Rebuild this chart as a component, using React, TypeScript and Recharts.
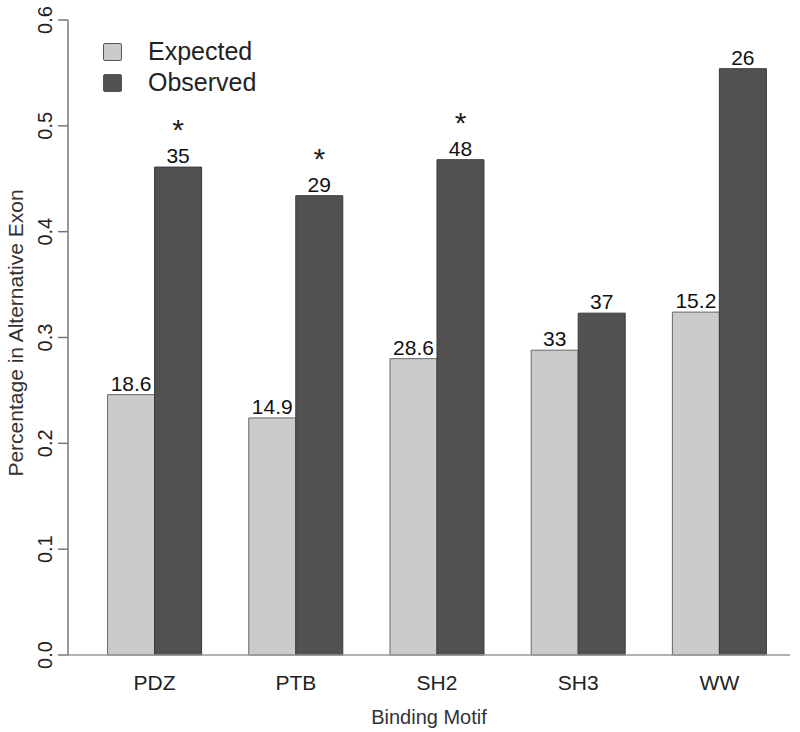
import { BarChart, Bar, XAxis, YAxis, LabelList } from 'recharts';

const categories = ['PDZ', 'PTB', 'SH2', 'SH3', 'WW'];
const expected = [0.246, 0.224, 0.28, 0.288, 0.324];
const observed = [0.461, 0.434, 0.468, 0.323, 0.554];
const expectedLabels = ['18.6', '14.9', '28.6', '33', '15.2'];
const observedLabels = ['35', '29', '48', '37', '26'];
const significant = [true, true, true, false, false];
const yTicks = [0, 0.1, 0.2, 0.3, 0.4, 0.5, 0.6];
const seriesNames = ['Expected', 'Observed'];

const data = categories.map((motif, i) => ({
  motif,
  expected: expected[i],
  observed: observed[i],
}));

const FONT = '"Liberation Sans", Arial, Helvetica, sans-serif';
const EXP_COLOR = '#cbcbcb';
const OBS_COLOR = '#515151';
const colors = [EXP_COLOR, OBS_COLOR];

const YTick = ({ x, y, payload }: any) => (
  <text
    x={x - 4}
    y={y}
    transform={`rotate(-90, ${x - 4}, ${y})`}
    textAnchor="middle"
    fontSize={20}
    fontFamily={FONT}
    fill="#222"
  >
    {payload.value.toFixed(1)}
  </text>
);

const XTick = ({ x, y, payload }: any) => (
  <text x={x} y={y + 27} textAnchor="middle" fontSize={21} fontFamily={FONT} fill="#222">
    {payload.value}
  </text>
);

// numbers above the bars, asterisk for the significant ones
const makeLabel = (labels: string[], stars: boolean) => (props: any) => {
  const { x, y, width, index } = props;
  const cx = x + width / 2;
  return (
    <g>
      <text x={cx} y={y - 4} textAnchor="middle" fontSize={21} fontFamily={FONT} fill="#111">
        {labels[index]}
      </text>
      {stars && significant[index] && (
        <text x={cx} y={y - 27} textAnchor="middle" fontSize={30} fontFamily={FONT} fill="#222">
          *
        </text>
      )}
    </g>
  );
};

const LegendBox = () => (
  <div
    style={{
      position: 'absolute',
      left: 103,
      top: 36,
      fontFamily: FONT,
      fontSize: 25,
      color: '#222',
      lineHeight: '31px',
    }}
  >
    {seriesNames.map((name, i) => (
      <div key={name} style={{ display: 'flex', alignItems: 'center' }}>
        <span
          style={{
            display: 'inline-block',
            width: 17,
            height: 16,
            background: colors[i],
            border: '1px solid #555',
            borderRadius: 2,
            marginRight: 26,
          }}
        />
        {name}
      </div>
    ))}
  </div>
);

export default function App() {
  return (
    <div style={{ position: 'absolute', left: 0, top: 0, width: 800, height: 732, background: '#fff' }}>
      <BarChart
        width={800}
        height={732}
        data={data}
        margin={{ top: 20, right: 10, bottom: 17, left: 8 }}
        barCategoryGap="16.7%"
        barGap={0}
      >
        <XAxis
          dataKey="motif"
          height={60}
          padding={{ left: 16, right: 0 }}
          axisLine={{ stroke: '#999', strokeWidth: 1.5 }}
          tickLine={false}
          tick={<XTick />}
          label={() => (
            <text x={429} y={724} textAnchor="middle" fontSize={20} fontFamily={FONT} fill="#333">
              Binding Motif
            </text>
          )}
        />
        <YAxis
          width={60}
          domain={[0, 0.6]}
          ticks={yTicks}
          interval={0}
          axisLine={{ stroke: '#777', strokeWidth: 1.5 }}
          tickLine={{ stroke: '#777', strokeWidth: 1.5 }}
          tickSize={10}
          tick={<YTick />}
          label={() => (
            <text
              x={15}
              y={333}
              transform="rotate(-90, 15, 333)"
              textAnchor="middle"
              dominantBaseline="central"
              fontSize={21}
              fontFamily={FONT}
              fill="#333"
            >
              Percentage in Alternative Exon
            </text>
          )}
        />
        <Bar dataKey="expected" name="Expected" fill={EXP_COLOR} stroke="#666" strokeWidth={1} isAnimationActive={false}>
          <LabelList dataKey="expected" content={makeLabel(expectedLabels, false)} />
        </Bar>
        <Bar dataKey="observed" name="Observed" fill={OBS_COLOR} stroke="#3a3a3a" strokeWidth={1} isAnimationActive={false}>
          <LabelList dataKey="observed" content={makeLabel(observedLabels, true)} />
        </Bar>
      </BarChart>
      <LegendBox />
    </div>
  );
}
